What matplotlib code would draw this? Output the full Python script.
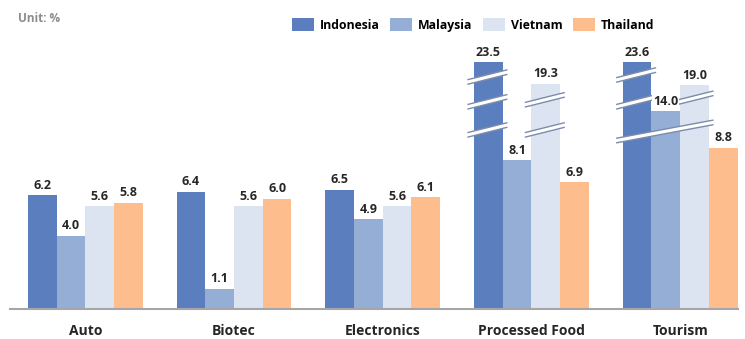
import numpy as np
import matplotlib.pyplot as plt
from matplotlib.patches import Polygon
from matplotlib.lines import Line2D
from matplotlib.transforms import IdentityTransform

plt.rcParams['font.family'] = ['Open Sans', 'DejaVu Sans']

categories = ['Auto', 'Biotec', 'Electronics', 'Processed Food', 'Tourism']
countries = ['Indonesia', 'Malaysia', 'Vietnam', 'Thailand']
indonesia = [6.2, 6.4, 6.5, 23.5, 23.6]
malaysia = [4.0, 1.1, 4.9, 8.1, 14.0]
vietnam = [5.6, 5.6, 5.6, 19.3, 19.0]
thailand = [5.8, 6.0, 6.1, 6.9, 8.8]
colors = ['#5b7fbe', '#94aed6', '#dde4f1', '#fdbd8d']

# break symbols: (category, first bar, last bar, level)
breaks = [
    (3, 0, 0, 20.65), (3, 0, 0, 15.8), (3, 0, 0, 10.3),
    (3, 2, 2, 16.2), (3, 2, 2, 10.3),
    (4, 0, 0, 21.05), (4, 0, 0, 15.8), (4, 0, 2, 10.0),
    (4, 2, 2, 16.5),
]

# values above BREAK are squeezed so the tall bars fit
BREAK = 9.55
SQUEEZE = 0.2785


def fwd(v):
    v = np.asarray(v, float)
    return np.where(v <= BREAK, v, BREAK + (v - BREAK) * SQUEEZE)


def inv(t):
    t = np.asarray(t, float)
    return np.where(t <= BREAK, t, BREAK + (t - BREAK) / SQUEEZE)


fig = plt.figure(figsize=(7.45, 3.39), dpi=100)
ax = fig.add_axes([10 / 745, 30 / 339, 728 / 745, 269 / 339])
ax.set_yscale('function', functions=(fwd, inv))

series = [indonesia, malaysia, vietnam, thailand]
x = np.arange(len(categories))
w = 0.193
offsets = (np.arange(len(series)) - 1.5) * w

for vals, name, c, off in zip(series, countries, colors, offsets):
    ax.bar(x + off, vals, w, color=c, label=name, zorder=2)
    for xi, v in zip(x + off, vals):
        ax.annotate(f'{v:.1f}', (xi, v), xytext=(0, 2.5), textcoords='offset points',
                    ha='center', va='bottom', fontsize=9, fontweight='bold',
                    color='#262626', zorder=5,
                    bbox=dict(fc='white', ec='none', pad=0.6))

ax.set_xlim(-0.507, 4.389)
ax.set_ylim(0, 27.9)
for s in ['left', 'right', 'top']:
    ax.spines[s].set_visible(False)
ax.spines['bottom'].set_color('#a6a6a6')
ax.spines['bottom'].set_linewidth(1.5)
ax.set_yticks([])
ax.set_xticks(x, categories, fontsize=10, fontweight='bold', color='#262626')
ax.tick_params(axis='x', length=0, pad=11)


def draw_break(ci, b0, b1, level):
    xl = ci + offsets[b0] - w / 2
    xr = ci + offsets[b1] + w / 2
    (px0, py), (px1, _) = ax.transData.transform([(xl, level), (xr, level)])
    px0 -= 6
    px1 += 4
    rise = min(0.25 * (px1 - px0), 18)
    yl, yr = py - rise / 2, py + rise / 2
    h = 2.3
    band = Polygon([(px0, yl - h), (px1, yr - h), (px1, yr + h), (px0, yl + h)],
                   closed=True, fc='white', ec='none', transform=IdentityTransform(),
                   zorder=3, clip_on=False)
    ax.add_artist(band)
    for d in (-h, h):
        ax.add_artist(Line2D([px0, px1], [yl + d, yr + d], color='#7b8cab', lw=1.0,
                             transform=IdentityTransform(), zorder=3, clip_on=False))


for ci, b0, b1, level in breaks:
    draw_break(ci, b0, b1, level)

fig.legend(loc='upper left', bbox_to_anchor=(292 / 745, 1 - 18 / 339), ncol=4, frameon=False,
           handlelength=1.8, handleheight=1.3, handletextpad=0.45,
           columnspacing=0.9, borderpad=0, borderaxespad=0,
           prop={'weight': 'bold', 'size': 8.8})
fig.text(18 / 745, 1 - 18 / 339, 'Unit: %', va='center', ha='left', fontsize=8.5,
         fontweight='bold', color='#8c8c8c')

fig.savefig('out.png', dpi=100)
